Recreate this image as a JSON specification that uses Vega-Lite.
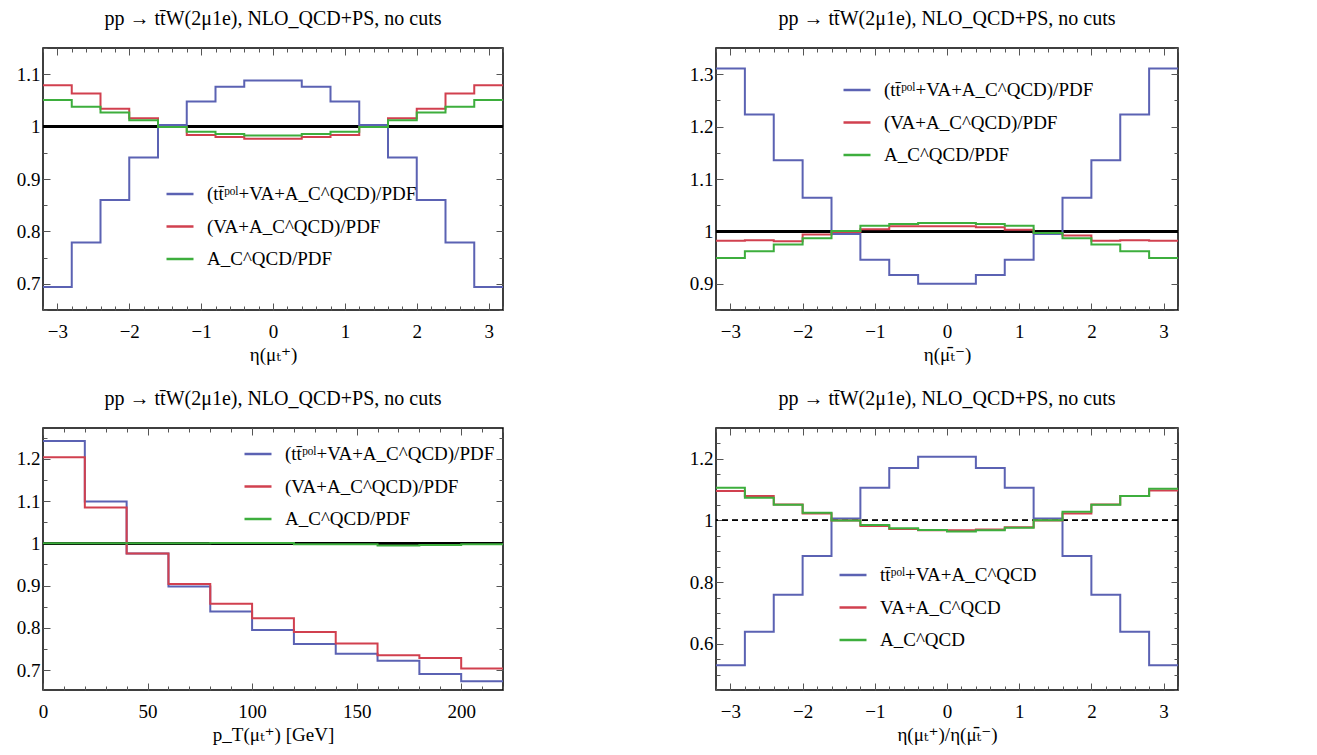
{
"$schema":"https://vega.github.io/schema/vega-lite/v6.json",
"padding":{"left":15,"top":7,"right":5,"bottom":5},
"config":{
 "font":"'Liberation Serif', 'DejaVu Serif', serif",
 "view":{"stroke":"black","strokeWidth":1.5},
 "axis":{"domain":false,"grid":false,"labelFont":"'Liberation Serif', 'DejaVu Serif', serif","labelFontSize":19,"labelColor":"black","titleFont":"'Liberation Serif', 'DejaVu Serif', serif","titleFontSize":19,"titleFontWeight":"normal","titleColor":"black","tickColor":"#555","tickWidth":1,"labelFlush":false,"labelOverlap":false},
 "title":{"font":"'Liberation Serif', 'DejaVu Serif', serif","fontSize":20,"fontWeight":"normal","color":"black","offset":19},
 "legend":{"labelFont":"'Liberation Serif', 'DejaVu Serif', serif","labelFontSize":19,"labelColor":"black","padding":0,"labelLimit":0}
},
"resolve":{"scale":{"color":"independent"},"legend":{"color":"independent"}},
"datasets":{
 "d1":[
  {"s":"x","x":-3.2,"y":0.694},{"s":"x","x":-2.8,"y":0.779},{"s":"x","x":-2.4,"y":0.860},{"s":"x","x":-2.0,"y":0.941},{"s":"x","x":-1.6,"y":1.003},{"s":"x","x":-1.2,"y":1.048},{"s":"x","x":-0.8,"y":1.076},{"s":"x","x":-0.4,"y":1.088},{"s":"x","x":0,"y":1.088},{"s":"x","x":0.4,"y":1.076},{"s":"x","x":0.8,"y":1.048},{"s":"x","x":1.2,"y":1.003},{"s":"x","x":1.6,"y":0.941},{"s":"x","x":2.0,"y":0.860},{"s":"x","x":2.4,"y":0.779},{"s":"x","x":2.8,"y":0.694},{"s":"x","x":3.2,"y":0.694},
  {"s":"v","x":-3.2,"y":1.079},{"s":"v","x":-2.8,"y":1.063},{"s":"v","x":-2.4,"y":1.034},{"s":"v","x":-2.0,"y":1.016},{"s":"v","x":-1.6,"y":0.999},{"s":"v","x":-1.2,"y":0.984},{"s":"v","x":-0.8,"y":0.980},{"s":"v","x":-0.4,"y":0.977},{"s":"v","x":0,"y":0.977},{"s":"v","x":0.4,"y":0.980},{"s":"v","x":0.8,"y":0.984},{"s":"v","x":1.2,"y":0.999},{"s":"v","x":1.6,"y":1.016},{"s":"v","x":2.0,"y":1.034},{"s":"v","x":2.4,"y":1.063},{"s":"v","x":2.8,"y":1.079},{"s":"v","x":3.2,"y":1.079},
  {"s":"c","x":-3.2,"y":1.051},{"s":"c","x":-2.8,"y":1.038},{"s":"c","x":-2.4,"y":1.027},{"s":"c","x":-2.0,"y":1.012},{"s":"c","x":-1.6,"y":0.999},{"s":"c","x":-1.2,"y":0.990},{"s":"c","x":-0.8,"y":0.986},{"s":"c","x":-0.4,"y":0.983},{"s":"c","x":0,"y":0.983},{"s":"c","x":0.4,"y":0.986},{"s":"c","x":0.8,"y":0.990},{"s":"c","x":1.2,"y":0.999},{"s":"c","x":1.6,"y":1.012},{"s":"c","x":2.0,"y":1.027},{"s":"c","x":2.4,"y":1.038},{"s":"c","x":2.8,"y":1.051},{"s":"c","x":3.2,"y":1.051}
 ],
 "d2":[
  {"s":"x","x":-3.2,"y":1.311},{"s":"x","x":-2.8,"y":1.223},{"s":"x","x":-2.4,"y":1.136},{"s":"x","x":-2.0,"y":1.064},{"s":"x","x":-1.6,"y":0.995},{"s":"x","x":-1.2,"y":0.946},{"s":"x","x":-0.8,"y":0.917},{"s":"x","x":-0.4,"y":0.900},{"s":"x","x":0,"y":0.900},{"s":"x","x":0.4,"y":0.917},{"s":"x","x":0.8,"y":0.946},{"s":"x","x":1.2,"y":0.995},{"s":"x","x":1.6,"y":1.064},{"s":"x","x":2.0,"y":1.136},{"s":"x","x":2.4,"y":1.223},{"s":"x","x":2.8,"y":1.311},{"s":"x","x":3.2,"y":1.311},
  {"s":"v","x":-3.2,"y":0.982},{"s":"v","x":-2.8,"y":0.983},{"s":"v","x":-2.4,"y":0.981},{"s":"v","x":-2.0,"y":0.994},{"s":"v","x":-1.6,"y":0.999},{"s":"v","x":-1.2,"y":1.004},{"s":"v","x":-0.8,"y":1.010},{"s":"v","x":-0.4,"y":1.010},{"s":"v","x":0,"y":1.010},{"s":"v","x":0.4,"y":1.008},{"s":"v","x":0.8,"y":1.003},{"s":"v","x":1.2,"y":0.997},{"s":"v","x":1.6,"y":0.992},{"s":"v","x":2.0,"y":0.982},{"s":"v","x":2.4,"y":0.983},{"s":"v","x":2.8,"y":0.982},{"s":"v","x":3.2,"y":0.982},
  {"s":"c","x":-3.2,"y":0.949},{"s":"c","x":-2.8,"y":0.962},{"s":"c","x":-2.4,"y":0.975},{"s":"c","x":-2.0,"y":0.987},{"s":"c","x":-1.6,"y":1.001},{"s":"c","x":-1.2,"y":1.011},{"s":"c","x":-0.8,"y":1.014},{"s":"c","x":-0.4,"y":1.016},{"s":"c","x":0,"y":1.016},{"s":"c","x":0.4,"y":1.014},{"s":"c","x":0.8,"y":1.011},{"s":"c","x":1.2,"y":0.997},{"s":"c","x":1.6,"y":0.987},{"s":"c","x":2.0,"y":0.975},{"s":"c","x":2.4,"y":0.962},{"s":"c","x":2.8,"y":0.949},{"s":"c","x":3.2,"y":0.949}
 ],
 "d3":[
  {"s":"x","x":0,"y":1.242},{"s":"x","x":20,"y":1.099},{"s":"x","x":40,"y":0.976},{"s":"x","x":60,"y":0.898},{"s":"x","x":80,"y":0.839},{"s":"x","x":100,"y":0.795},{"s":"x","x":120,"y":0.762},{"s":"x","x":140,"y":0.739},{"s":"x","x":160,"y":0.722},{"s":"x","x":180,"y":0.691},{"s":"x","x":200,"y":0.674},{"s":"x","x":220,"y":0.674},
  {"s":"v","x":0,"y":1.204},{"s":"v","x":20,"y":1.085},{"s":"v","x":40,"y":0.976},{"s":"v","x":60,"y":0.904},{"s":"v","x":80,"y":0.857},{"s":"v","x":100,"y":0.823},{"s":"v","x":120,"y":0.790},{"s":"v","x":140,"y":0.763},{"s":"v","x":160,"y":0.735},{"s":"v","x":180,"y":0.729},{"s":"v","x":200,"y":0.704},{"s":"v","x":220,"y":0.704},
  {"s":"c","x":0,"y":1.0},{"s":"c","x":20,"y":1.0},{"s":"c","x":40,"y":1.0},{"s":"c","x":60,"y":1.0},{"s":"c","x":80,"y":1.001},{"s":"c","x":100,"y":1.001},{"s":"c","x":120,"y":0.998},{"s":"c","x":140,"y":0.998},{"s":"c","x":160,"y":0.995},{"s":"c","x":180,"y":0.996},{"s":"c","x":200,"y":0.998},{"s":"c","x":220,"y":0.998}
 ],
 "d4":[
  {"s":"x","x":-3.2,"y":0.530},{"s":"x","x":-2.8,"y":0.639},{"s":"x","x":-2.4,"y":0.759},{"s":"x","x":-2.0,"y":0.885},{"s":"x","x":-1.6,"y":1.006},{"s":"x","x":-1.2,"y":1.106},{"s":"x","x":-0.8,"y":1.170},{"s":"x","x":-0.4,"y":1.207},{"s":"x","x":0,"y":1.207},{"s":"x","x":0.4,"y":1.170},{"s":"x","x":0.8,"y":1.106},{"s":"x","x":1.2,"y":1.006},{"s":"x","x":1.6,"y":0.885},{"s":"x","x":2.0,"y":0.759},{"s":"x","x":2.4,"y":0.639},{"s":"x","x":2.8,"y":0.530},{"s":"x","x":3.2,"y":0.530},
  {"s":"v","x":-3.2,"y":1.096},{"s":"v","x":-2.8,"y":1.079},{"s":"v","x":-2.4,"y":1.052},{"s":"v","x":-2.0,"y":1.023},{"s":"v","x":-1.6,"y":1.000},{"s":"v","x":-1.2,"y":0.982},{"s":"v","x":-0.8,"y":0.972},{"s":"v","x":-0.4,"y":0.968},{"s":"v","x":0,"y":0.968},{"s":"v","x":0.4,"y":0.971},{"s":"v","x":0.8,"y":0.978},{"s":"v","x":1.2,"y":1.000},{"s":"v","x":1.6,"y":1.023},{"s":"v","x":2.0,"y":1.052},{"s":"v","x":2.4,"y":1.079},{"s":"v","x":2.8,"y":1.097},{"s":"v","x":3.2,"y":1.097},
  {"s":"c","x":-3.2,"y":1.106},{"s":"c","x":-2.8,"y":1.074},{"s":"c","x":-2.4,"y":1.051},{"s":"c","x":-2.0,"y":1.025},{"s":"c","x":-1.6,"y":1.000},{"s":"c","x":-1.2,"y":0.985},{"s":"c","x":-0.8,"y":0.975},{"s":"c","x":-0.4,"y":0.969},{"s":"c","x":0,"y":0.964},{"s":"c","x":0.4,"y":0.968},{"s":"c","x":0.8,"y":0.976},{"s":"c","x":1.2,"y":1.001},{"s":"c","x":1.6,"y":1.028},{"s":"c","x":2.0,"y":1.051},{"s":"c","x":2.4,"y":1.079},{"s":"c","x":2.8,"y":1.103},{"s":"c","x":3.2,"y":1.103}
 ]
},
"columns":2,
"spacing":{"column":180,"row":22},
"concat":[
 {
  "width":460,"height":262,
  "title":"pp → tt̄W(2μ1e), NLO_QCD+PS, no cuts",
  "data":{"name":"d1"},
  "resolve":{"axis":{"x":"independent","y":"independent"}},
  "layer":[
   {"mark":{"type":"rule","color":"black","strokeWidth":2},"encoding":{"y":{"datum":1,"type":"quantitative","scale":{"domain":[0.65,1.15],"nice":false,"zero":false},"axis":null}}},
   {"mark":{"type":"line","interpolate":"step-after","strokeWidth":2},
    "encoding":{
     "x":{"field":"x","type":"quantitative","scale":{"domain":[-3.2,3.2],"nice":false,"zero":false},"axis":{"orient":"bottom","values":[-3,-2,-1,0,1,2,3],"tickSize":-7,"labelPadding":19,"title":"η(μₜ⁺)","titlePadding":4}},
     "y":{"field":"y","type":"quantitative","scale":{"domain":[0.65,1.15],"nice":false,"zero":false},"axis":{"orient":"left","values":[0.7,0.8,0.9,1,1.1],"tickSize":-7,"labelPadding":10,"format":"~g","title":null}},
     "color":{"field":"s","type":"nominal","scale":{"domain":["x","v","c"],"range":["#5b62b3","#d1404f","#3dae3d"]},
      "legend":{"orient":"none","legendX":122,"legendY":131,"title":null,"symbolType":"stroke","symbolSize":729,"symbolStrokeWidth":2.5,"labelOffset":12,"rowPadding":7.5,
       "labelExpr":"datum.value == 'x' ? '(tt̄ᵖᵒˡ+VA+A_C^QCD)/PDF' : datum.value == 'v' ? '(VA+A_C^QCD)/PDF' : 'A_C^QCD/PDF'"}}
    }},
   {"mark":{"type":"point","opacity":0},
    "encoding":{
     "x":{"field":"x","type":"quantitative","scale":{"domain":[-3.2,3.2],"nice":false,"zero":false},"axis":{"orient":"top","values":[-3,-2,-1,0,1,2,3],"tickSize":-7,"labels":false,"title":null}},
     "y":{"field":"y","type":"quantitative","scale":{"domain":[0.65,1.15],"nice":false,"zero":false},"axis":{"orient":"right","values":[0.7,0.8,0.9,1,1.1],"tickSize":-7,"labels":false,"title":null}}
    }},
   {"mark":{"type":"point","opacity":0},
    "encoding":{
     "x":{"field":"x","type":"quantitative","scale":{"domain":[-3.2,3.2],"nice":false,"zero":false},"axis":{"orient":"bottom","values":[-3.2,-3,-2.8,-2.6,-2.4,-2.2,-2,-1.8,-1.6,-1.4,-1.2,-1,-0.8,-0.6,-0.4,-0.2,0,0.2,0.4,0.6,0.8,1,1.2,1.4,1.6,1.8,2,2.2,2.4,2.6,2.8,3,3.2],"tickSize":-4,"labels":false,"title":null}},
     "y":{"field":"y","type":"quantitative","scale":{"domain":[0.65,1.15],"nice":false,"zero":false},"axis":{"orient":"left","values":[0.65,0.7,0.75,0.8,0.85,0.9,0.95,1,1.05,1.1,1.15],"tickSize":-4,"labels":false,"title":null}}
    }},
   {"mark":{"type":"point","opacity":0},
    "encoding":{
     "x":{"field":"x","type":"quantitative","scale":{"domain":[-3.2,3.2],"nice":false,"zero":false},"axis":{"orient":"top","values":[-3.2,-3,-2.8,-2.6,-2.4,-2.2,-2,-1.8,-1.6,-1.4,-1.2,-1,-0.8,-0.6,-0.4,-0.2,0,0.2,0.4,0.6,0.8,1,1.2,1.4,1.6,1.8,2,2.2,2.4,2.6,2.8,3,3.2],"tickSize":-4,"labels":false,"title":null}},
     "y":{"field":"y","type":"quantitative","scale":{"domain":[0.65,1.15],"nice":false,"zero":false},"axis":{"orient":"right","values":[0.65,0.7,0.75,0.8,0.85,0.9,0.95,1,1.05,1.1,1.15],"tickSize":-4,"labels":false,"title":null}}
    }}
  ]
 },
 {
  "width":462,"height":262,
  "title":"pp → tt̄W(2μ1e), NLO_QCD+PS, no cuts",
  "data":{"name":"d2"},
  "resolve":{"axis":{"x":"independent","y":"independent"}},
  "layer":[
   {"mark":{"type":"rule","color":"black","strokeWidth":2},"encoding":{"y":{"datum":1,"type":"quantitative","scale":{"domain":[0.85,1.35],"nice":false,"zero":false},"axis":null}}},
   {"mark":{"type":"line","interpolate":"step-after","strokeWidth":2},
    "encoding":{
     "x":{"field":"x","type":"quantitative","scale":{"domain":[-3.2,3.2],"nice":false,"zero":false},"axis":{"orient":"bottom","values":[-3,-2,-1,0,1,2,3],"tickSize":-7,"labelPadding":19,"title":"η(μₜ̄⁻)","titlePadding":4}},
     "y":{"field":"y","type":"quantitative","scale":{"domain":[0.85,1.35],"nice":false,"zero":false},"axis":{"orient":"left","values":[0.9,1,1.1,1.2,1.3],"tickSize":-7,"labelPadding":10,"format":"~g","title":null}},
     "color":{"field":"s","type":"nominal","scale":{"domain":["x","v","c"],"range":["#5b62b3","#d1404f","#3dae3d"]},
      "legend":{"orient":"none","legendX":126,"legendY":27,"title":null,"symbolType":"stroke","symbolSize":729,"symbolStrokeWidth":2.5,"labelOffset":12,"rowPadding":7.5,
       "labelExpr":"datum.value == 'x' ? '(tt̄ᵖᵒˡ+VA+A_C^QCD)/PDF' : datum.value == 'v' ? '(VA+A_C^QCD)/PDF' : 'A_C^QCD/PDF'"}}
    }},
   {"mark":{"type":"point","opacity":0},
    "encoding":{
     "x":{"field":"x","type":"quantitative","scale":{"domain":[-3.2,3.2],"nice":false,"zero":false},"axis":{"orient":"top","values":[-3,-2,-1,0,1,2,3],"tickSize":-7,"labels":false,"title":null}},
     "y":{"field":"y","type":"quantitative","scale":{"domain":[0.85,1.35],"nice":false,"zero":false},"axis":{"orient":"right","values":[0.9,1,1.1,1.2,1.3],"tickSize":-7,"labels":false,"title":null}}
    }},
   {"mark":{"type":"point","opacity":0},
    "encoding":{
     "x":{"field":"x","type":"quantitative","scale":{"domain":[-3.2,3.2],"nice":false,"zero":false},"axis":{"orient":"bottom","values":[-3.2,-3,-2.8,-2.6,-2.4,-2.2,-2,-1.8,-1.6,-1.4,-1.2,-1,-0.8,-0.6,-0.4,-0.2,0,0.2,0.4,0.6,0.8,1,1.2,1.4,1.6,1.8,2,2.2,2.4,2.6,2.8,3,3.2],"tickSize":-4,"labels":false,"title":null}},
     "y":{"field":"y","type":"quantitative","scale":{"domain":[0.85,1.35],"nice":false,"zero":false},"axis":{"orient":"left","values":[0.85,0.9,0.95,1,1.05,1.1,1.15,1.2,1.25,1.3,1.35],"tickSize":-4,"labels":false,"title":null}}
    }},
   {"mark":{"type":"point","opacity":0},
    "encoding":{
     "x":{"field":"x","type":"quantitative","scale":{"domain":[-3.2,3.2],"nice":false,"zero":false},"axis":{"orient":"top","values":[-3.2,-3,-2.8,-2.6,-2.4,-2.2,-2,-1.8,-1.6,-1.4,-1.2,-1,-0.8,-0.6,-0.4,-0.2,0,0.2,0.4,0.6,0.8,1,1.2,1.4,1.6,1.8,2,2.2,2.4,2.6,2.8,3,3.2],"tickSize":-4,"labels":false,"title":null}},
     "y":{"field":"y","type":"quantitative","scale":{"domain":[0.85,1.35],"nice":false,"zero":false},"axis":{"orient":"right","values":[0.85,0.9,0.95,1,1.05,1.1,1.15,1.2,1.25,1.3,1.35],"tickSize":-4,"labels":false,"title":null}}
    }}
  ]
 },
 {
  "width":460,"height":262,
  "title":"pp → tt̄W(2μ1e), NLO_QCD+PS, no cuts",
  "data":{"name":"d3"},
  "resolve":{"axis":{"x":"independent","y":"independent"}},
  "layer":[
   {"mark":{"type":"rule","color":"black","strokeWidth":2},"encoding":{"y":{"datum":1,"type":"quantitative","scale":{"domain":[0.653,1.273],"nice":false,"zero":false},"axis":null}}},
   {"mark":{"type":"line","interpolate":"step-after","strokeWidth":2},
    "encoding":{
     "x":{"field":"x","type":"quantitative","scale":{"domain":[0,220],"nice":false,"zero":false},"axis":{"orient":"bottom","values":[0,50,100,150,200],"tickSize":-7,"labelPadding":19,"title":"p_T(μₜ⁺) [GeV]","titlePadding":4}},
     "y":{"field":"y","type":"quantitative","scale":{"domain":[0.653,1.273],"nice":false,"zero":false},"axis":{"orient":"left","values":[0.7,0.8,0.9,1,1.1,1.2],"tickSize":-7,"labelPadding":10,"format":"~g","title":null}},
     "color":{"field":"s","type":"nominal","scale":{"domain":["x","v","c"],"range":["#5b62b3","#d1404f","#3dae3d"]},
      "legend":{"orient":"none","legendX":200,"legendY":11,"title":null,"symbolType":"stroke","symbolSize":729,"symbolStrokeWidth":2.5,"labelOffset":12,"rowPadding":7.5,
       "labelExpr":"datum.value == 'x' ? '(tt̄ᵖᵒˡ+VA+A_C^QCD)/PDF' : datum.value == 'v' ? '(VA+A_C^QCD)/PDF' : 'A_C^QCD/PDF'"}}
    }},
   {"mark":{"type":"point","opacity":0},
    "encoding":{
     "x":{"field":"x","type":"quantitative","scale":{"domain":[0,220],"nice":false,"zero":false},"axis":{"orient":"top","values":[0,50,100,150,200],"tickSize":-7,"labels":false,"title":null}},
     "y":{"field":"y","type":"quantitative","scale":{"domain":[0.653,1.273],"nice":false,"zero":false},"axis":{"orient":"right","values":[0.7,0.8,0.9,1,1.1,1.2],"tickSize":-7,"labels":false,"title":null}}
    }},
   {"mark":{"type":"point","opacity":0},
    "encoding":{
     "x":{"field":"x","type":"quantitative","scale":{"domain":[0,220],"nice":false,"zero":false},"axis":{"orient":"bottom","values":[0,10,20,30,40,50,60,70,80,90,100,110,120,130,140,150,160,170,180,190,200,210,220],"tickSize":-4,"labels":false,"title":null}},
     "y":{"field":"y","type":"quantitative","scale":{"domain":[0.653,1.273],"nice":false,"zero":false},"axis":{"orient":"left","values":[0.7,0.75,0.8,0.85,0.9,0.95,1,1.05,1.1,1.15,1.2,1.25],"tickSize":-4,"labels":false,"title":null}}
    }},
   {"mark":{"type":"point","opacity":0},
    "encoding":{
     "x":{"field":"x","type":"quantitative","scale":{"domain":[0,220],"nice":false,"zero":false},"axis":{"orient":"top","values":[0,10,20,30,40,50,60,70,80,90,100,110,120,130,140,150,160,170,180,190,200,210,220],"tickSize":-4,"labels":false,"title":null}},
     "y":{"field":"y","type":"quantitative","scale":{"domain":[0.653,1.273],"nice":false,"zero":false},"axis":{"orient":"right","values":[0.7,0.75,0.8,0.85,0.9,0.95,1,1.05,1.1,1.15,1.2,1.25],"tickSize":-4,"labels":false,"title":null}}
    }}
  ]
 },
 {
  "width":462,"height":262,
  "title":"pp → tt̄W(2μ1e), NLO_QCD+PS, no cuts",
  "data":{"name":"d4"},
  "resolve":{"axis":{"x":"independent","y":"independent"}},
  "layer":[
   {"mark":{"type":"rule","color":"black","strokeWidth":1,"strokeDash":[6,4]},"encoding":{"y":{"datum":1,"type":"quantitative","scale":{"domain":[0.45,1.3],"nice":false,"zero":false},"axis":null}}},
   {"mark":{"type":"line","interpolate":"step-after","strokeWidth":2},
    "encoding":{
     "x":{"field":"x","type":"quantitative","scale":{"domain":[-3.2,3.2],"nice":false,"zero":false},"axis":{"orient":"bottom","values":[-3,-2,-1,0,1,2,3],"tickSize":-7,"labelPadding":19,"title":"η(μₜ⁺)/η(μₜ̄⁻)","titlePadding":4}},
     "y":{"field":"y","type":"quantitative","scale":{"domain":[0.45,1.3],"nice":false,"zero":false},"axis":{"orient":"left","values":[0.6,0.8,1,1.2],"tickSize":-7,"labelPadding":10,"format":"~g","title":null}},
     "color":{"field":"s","type":"nominal","scale":{"domain":["x","v","c"],"range":["#5b62b3","#d1404f","#3dae3d"]},
      "legend":{"orient":"none","legendX":122,"legendY":132,"title":null,"symbolType":"stroke","symbolSize":729,"symbolStrokeWidth":2.5,"labelOffset":12,"rowPadding":7.5,
       "labelExpr":"datum.value == 'x' ? 'tt̄ᵖᵒˡ+VA+A_C^QCD' : datum.value == 'v' ? 'VA+A_C^QCD' : 'A_C^QCD'"}}
    }},
   {"mark":{"type":"point","opacity":0},
    "encoding":{
     "x":{"field":"x","type":"quantitative","scale":{"domain":[-3.2,3.2],"nice":false,"zero":false},"axis":{"orient":"top","values":[-3,-2,-1,0,1,2,3],"tickSize":-7,"labels":false,"title":null}},
     "y":{"field":"y","type":"quantitative","scale":{"domain":[0.45,1.3],"nice":false,"zero":false},"axis":{"orient":"right","values":[0.6,0.8,1,1.2],"tickSize":-7,"labels":false,"title":null}}
    }},
   {"mark":{"type":"point","opacity":0},
    "encoding":{
     "x":{"field":"x","type":"quantitative","scale":{"domain":[-3.2,3.2],"nice":false,"zero":false},"axis":{"orient":"bottom","values":[-3.2,-3,-2.8,-2.6,-2.4,-2.2,-2,-1.8,-1.6,-1.4,-1.2,-1,-0.8,-0.6,-0.4,-0.2,0,0.2,0.4,0.6,0.8,1,1.2,1.4,1.6,1.8,2,2.2,2.4,2.6,2.8,3,3.2],"tickSize":-4,"labels":false,"title":null}},
     "y":{"field":"y","type":"quantitative","scale":{"domain":[0.45,1.3],"nice":false,"zero":false},"axis":{"orient":"left","values":[0.45,0.5,0.55,0.6,0.65,0.7,0.75,0.8,0.85,0.9,0.95,1,1.05,1.1,1.15,1.2,1.25,1.3],"tickSize":-4,"labels":false,"title":null}}
    }},
   {"mark":{"type":"point","opacity":0},
    "encoding":{
     "x":{"field":"x","type":"quantitative","scale":{"domain":[-3.2,3.2],"nice":false,"zero":false},"axis":{"orient":"top","values":[-3.2,-3,-2.8,-2.6,-2.4,-2.2,-2,-1.8,-1.6,-1.4,-1.2,-1,-0.8,-0.6,-0.4,-0.2,0,0.2,0.4,0.6,0.8,1,1.2,1.4,1.6,1.8,2,2.2,2.4,2.6,2.8,3,3.2],"tickSize":-4,"labels":false,"title":null}},
     "y":{"field":"y","type":"quantitative","scale":{"domain":[0.45,1.3],"nice":false,"zero":false},"axis":{"orient":"right","values":[0.45,0.5,0.55,0.6,0.65,0.7,0.75,0.8,0.85,0.9,0.95,1,1.05,1.1,1.15,1.2,1.25,1.3],"tickSize":-4,"labels":false,"title":null}}
    }}
  ]
 }
]
}
